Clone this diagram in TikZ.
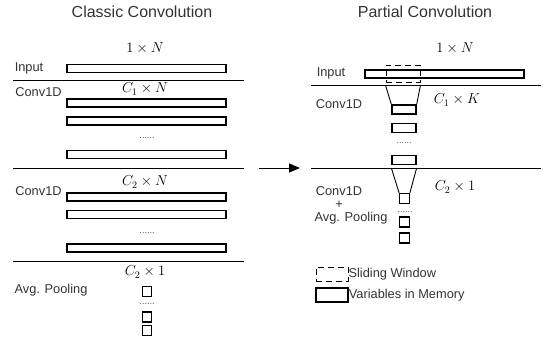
\documentclass[tikz,border=0pt]{standalone}
\usepackage{fontspec}
\setmainfont{Liberation Sans}
\usetikzlibrary{arrows.meta}

\begin{document}
\begin{tikzpicture}[
    x=1pt, y=-1pt,
    font=\fontsize{12.8}{14}\selectfont,
    title/.style={font=\fontsize{16}{18}\selectfont, text=black!80},
    lbl/.style={text=black!80, inner sep=0pt},
    dim/.style={font=\fontsize{14}{16}\selectfont, inner sep=0pt},
    bar/.style={draw, line width=1.3pt, fill=white, inner sep=0pt, minimum width=159pt, minimum height=8pt},
    cell/.style={draw, line width=1.3pt, fill=white, inner sep=0pt, minimum width=24pt, minimum height=9pt},
    sq/.style={draw, line width=1.3pt, fill=white, inner sep=0pt, minimum width=9.5pt, minimum height=10pt},
    window/.style={draw, dash pattern=on 6pt off 4pt, line width=0.8pt, inner sep=0pt},
    dots/.style={font=\fontsize{9}{10}\selectfont, text=black!70, inner sep=0pt},
    sep/.style={line width=0.9pt},
    funnel/.style={line width=0.9pt}
]
\useasboundingbox (0,0) rectangle (544,343);

% Classic convolution
\node[title] (ctitle) at (142,12) {Classic Convolution};
\node[dim] (cdim0) at (145,48) {$1\times N$};
\node[lbl] (cin) at (29,68) {Input};
\node[bar] (cbar0) at (146.5,68.5) {};
\coordinate (cl1a) at (13,80);
\coordinate (cl1b) at (244,80);
\draw[sep] (cl1a) -- (cl1b);

\node[dim] (cdim1) at (145,89) {$C_1\times N$};
\node[lbl] (cconv1) at (38.5,92) {Conv1D};
\node[bar] (cbar11) at (146.5,103) {};
\node[bar] (cbar12) at (146.5,121) {};
\node[dots] (cdots1) at (147,138) {......};
\node[bar] (cbar13) at (146.5,154.5) {};
\coordinate (cl2a) at (13,168);
\coordinate (cl2b) at (244,168);
\draw[sep] (cl2a) -- (cl2b);

\node[dim] (cdim2) at (145,182) {$C_2\times N$};
\node[lbl] (cconv2) at (38.5,191) {Conv1D};
\node[bar] (cbar21) at (146.5,197) {};
\node[bar] (cbar22) at (146.5,214.5) {};
\node[dots] (cdots2) at (147,233) {......};
\node[bar] (cbar23) at (146.5,248) {};
\coordinate (cl3a) at (13,261);
\coordinate (cl3b) at (244,261);
\draw[sep] (cl3a) -- (cl3b);

\node[dim] (cdim3) at (145,272) {$C_2\times 1$};
\node[lbl] (cpool) at (51,290) {Avg. Pooling};
\node[sq] (csq1) at (147,291.5) {};
\node[dots] (cdots3) at (147,304) {......};
\node[sq] (csq2) at (147,317) {};
\node[sq] (csq3) at (147,330.5) {};

% Arrow between the two
\coordinate (arra) at (259,168);
\coordinate (arrb) at (300,168);
\draw[line width=0.9pt, -{Triangle[length=11pt, width=9pt]}] (arra) -- (arrb);

% Partial convolution
\node[title] (ptitle) at (425,12) {Partial Convolution};
\node[dim] (pdim0) at (455,48) {$1\times N$};
\node[lbl] (pin) at (331,73) {Input};
\node[bar] (pbar0) at (444.5,74) {};
\node[window, minimum width=34pt, minimum height=17pt] (win) at (403,73.5) {};
\coordinate (pl1a) at (311,85.5);
\coordinate (pl1b) at (541,85.5);
\draw[sep] (pl1a) -- (pl1b);

\node[dim] (pdim1) at (457,100) {$C_1\times K$};
\node[lbl] (pconv1) at (339,104) {Conv1D};
\node[cell] (pc1) at (404,109.5) {};
\draw[funnel] (win.south west |- pl1a) -- (pc1.north west);
\draw[funnel] (win.south east |- pl1a) -- (pc1.north east);
\node[cell] (pc2) at (404,128) {};
\node[dots] (pdots1) at (404,143) {......};
\node[cell] (pc3) at (404,160) {};
\coordinate (pl2a) at (311,168);
\coordinate (pl2b) at (541,168);
\draw[sep] (pl2a) -- (pl2b);

\node[dim] (pdim2) at (455,187) {$C_2\times 1$};
\node[lbl] (pconv2) at (339,191) {Conv1D};
\node[lbl] (pplus) at (339,205) {+};
\node[lbl] (ppool) at (351,218) {Avg. Pooling};
\node[sq] (psq1) at (404.5,198.5) {};
\draw[funnel] (pc3.south west |- pl2a) -- (psq1.north west);
\draw[funnel] (pc3.south east |- pl2a) -- (psq1.north east);
\node[dots] (pdots2) at (405,212) {......};
\node[sq] (psq2) at (404.5,222) {};
\node[sq] (psq3) at (404.5,238) {};

% Legend
\node[window, minimum width=32pt, minimum height=14pt] (legwin) at (332,274) {};
\node[lbl, anchor=west] (legwintxt) at (legwin.east) {Sliding Window};
\node[draw, line width=1.3pt, inner sep=0pt, minimum width=32pt, minimum height=14pt] (legvar) at (332,295) {};
\node[lbl, anchor=west] (legvartxt) at (legvar.east) {Variables in Memory};

\end{tikzpicture}
\end{document}
